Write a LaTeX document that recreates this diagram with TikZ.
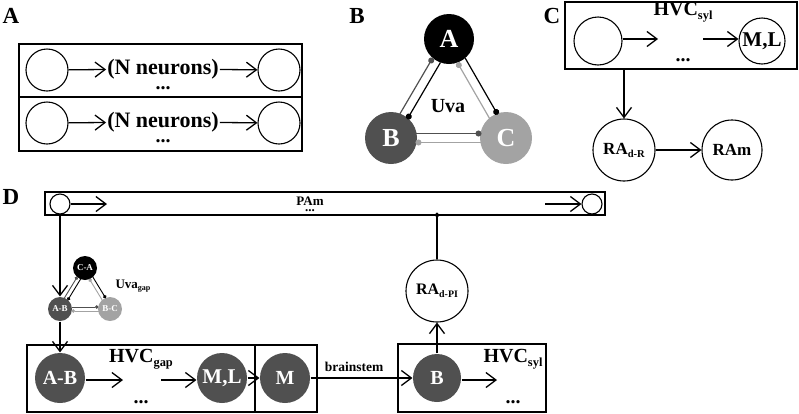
\documentclass[tikz,border=0pt]{standalone}
\usepackage{fontspec}
\setmainfont{Liberation Serif}
\usepackage{graphicx}
\usetikzlibrary{arrows.meta,calc}
\definecolor{darkg}{RGB}{80,80,80}
\definecolor{lightg}{RGB}{163,163,163}
\newcommand\lsub[1]{\raisebox{-0.18em}{\scalebox{0.62}{#1}}}
\newcommand\fsz[1]{\fontsize{#1}{#1}\selectfont\bfseries}
\newcommand\plink[4]{\draw[#3] ($(#1)!#4!90:(#2)$) -- ($(#2)!#4!-90:(#1)$);}
\begin{document}
\begin{tikzpicture}[x=1pt,y=-1pt,
  barb/.style={-{Straight Barb[length=10pt,width=15pt]}, line width=1.3pt},
  cn/.style={circle, inner sep=0pt, line width=1.1pt, minimum size=#1},
  box/.style={draw, line width=1.8pt, inner sep=0pt},
  lbl/.style={font=\fsz{23}},
  dts/.style={font=\fsz{20}, inner sep=0pt, anchor=base},
  lkB/.style={line width=1.2pt, -{Circle[length=6pt]}, shorten <=24.5pt, shorten >=24.5pt},
  lkD/.style={line width=0.9pt, -{Circle[length=3.5pt]}, shorten <=11.5pt, shorten >=11.5pt}
]
\useasboundingbox (0,0) rectangle (799,413);

% ---------- Panel A ----------
\node[lbl] (la) at (11,16) {A};
\node[box, minimum width=283pt, minimum height=53pt] (bA1) at (160.5,70.5) {};
\node[box, minimum width=283pt, minimum height=54pt] (bA2) at (160.5,124) {};
\node[cn=42pt, draw] (a1l) at (47,70) {};
\node[cn=42pt, draw] (a1r) at (279,70) {};
\node[font=\fsz{22}, inner sep=1pt] (t1) at (163,69) {(N neurons)};
\node[dts] (d1) at (163,89) {...};
\draw[barb] (a1l) -- (t1);
\draw[barb] (t1) -- (a1r);
\node[cn=42pt, draw] (a2l) at (47,123) {};
\node[cn=42pt, draw] (a2r) at (279,123) {};
\node[font=\fsz{22}, inner sep=1pt] (t2) at (163,122) {(N neurons)};
\node[dts] (d2) at (163,142) {...};
\draw[barb] (a2l) -- (t2);
\draw[barb] (t2) -- (a2r);

% ---------- Panel B ----------
\node[lbl] (lb) at (357,16) {B};
\node[cn=50pt, fill=black, text=white, font=\fsz{26}] (A) at (449,39) {A};
\node[cn=52pt, fill=darkg, text=white, font=\fsz{26}] (B) at (391,138) {B};
\node[cn=52pt, fill=lightg, text=white, font=\fsz{26}] (C) at (506,138) {C};
\node[font=\fsz{20}] (uva) at (448,106) {Uva};
\plink{A}{B}{black,lkB}{4.5pt}
\plink{B}{A}{darkg,lkB}{4.5pt}
\plink{A}{C}{black,lkB}{4.5pt}
\plink{C}{A}{lightg,lkB}{4.5pt}
\plink{B}{C}{darkg,lkB}{4.5pt}
\plink{C}{B}{lightg,lkB}{4.5pt}

% ---------- Panel C ----------
\node[lbl] (lc) at (552,16) {C};
\node[box, minimum width=232pt, minimum height=67pt] (bC) at (681,35.5) {};
\node[font=\fsz{20}] (hvcC) at (683,12) {HVC\lsub{syl}};
\node[cn=48pt, draw] (c1) at (598,41) {};
\node[cn=46pt, draw, font=\fsz{21}] (cML) at (762,41) {M,L};
\coordinate (c1e) at (658,39);
\coordinate (c2s) at (703,39);
\draw[barb] (c1.east |- c1e) -- (c1e);
\draw[barb] (c2s) -- (cML.west |- c2s);
\node[dts] (dC) at (683,61) {...};
\node[cn=62pt, draw, font=\fsz{17}] (cRA) at (624,150) {RA\lsub{d-R}};
\node[cn=60pt, draw, font=\fsz{17}] (cRAm) at (732,150) {RAm};
\draw[barb] (bC.south -| cRA) -- (cRA);
\draw[barb] (cRA) -- (cRAm);

% ---------- Panel D ----------
\node[lbl] (ld) at (11,197) {D};
\node[box, minimum width=560pt, minimum height=23pt] (pam) at (325,203.5) {};
\node[cn=20pt, draw] (pL) at (60,204) {};
\node[cn=20pt, draw] (pR) at (592,204) {};
\coordinate (pLe) at (107,204);
\coordinate (pRs) at (545,204);
\draw[barb] (pL) -- (pLe);
\draw[barb] (pRs) -- (pR);
\node[font=\fsz{13}, inner sep=0pt, anchor=base] (pamt) at (310,205) {PAm};
\node[font=\fsz{13}, inner sep=0pt, anchor=base] (pamd) at (310,211.5) {...};

% Uva gap
\node[cn=24pt, fill=black, text=white, font=\fsz{9}] (gCA) at (85,268) {C-A};
\node[cn=24pt, fill=darkg, text=white, font=\fsz{9}] (gAB) at (60,309) {A-B};
\node[cn=24pt, fill=lightg, text=white, font=\fsz{9}] (gBC) at (110,309) {B-C};
\plink{gCA}{gAB}{black,lkD}{2pt}
\plink{gAB}{gCA}{darkg,lkD}{2pt}
\plink{gCA}{gBC}{black,lkD}{2pt}
\plink{gBC}{gCA}{lightg,lkD}{2pt}
\plink{gAB}{gBC}{darkg,lkD}{2pt}
\plink{gBC}{gAB}{lightg,lkD}{2pt}
\node[font=\fsz{13}] (uvag) at (133,286) {Uva\lsub{gap}};

% HVC gap
\node[box, minimum width=228pt, minimum height=67pt] (bgap) at (141,378.5) {};
\node[box, minimum width=62pt, minimum height=67pt] (bM) at (286,378.5) {};
\node[cn=50pt, fill=darkg, text=white, font=\fsz{20}] (hAB) at (60,378) {A-B};
\node[cn=50pt, fill=darkg, text=white, font=\fsz{21}] (hML) at (222,378) {M,L};
\node[cn=50pt, fill=darkg, text=white, font=\fsz{20}] (hM) at (285,378) {M};
\node[font=\fsz{20}] (hvcg) at (141,359) {HVC\lsub{gap}};
\node[dts] (dg) at (141,403) {...};
\coordinate (g1e) at (123,380);
\coordinate (g2s) at (161,380);
\draw[barb] (hAB.east |- g1e) -- (g1e);
\draw[barb] (g2s) -- (hML.west |- g2s);
\draw[barb] (pL) -- (gAB);
\draw[barb] (gAB) -- (hAB);
\draw[barb] (hML) -- (hM);

% HVC syl (D)
\node[box, minimum width=148pt, minimum height=68pt] (bsyl) at (472,378) {};
\node[cn=48pt, fill=darkg, text=white, font=\fsz{20}] (hB) at (437,378) {B};
\node[font=\fsz{20}] (hvcs) at (513,359) {HVC\lsub{syl}};
\node[dts] (ds) at (513,403) {...};
\coordinate (s1e) at (497,380);
\draw[barb] (hB.east |- s1e) -- (s1e);
\draw[barb] (hM) -- (hB);
\node[font=\fsz{13.5}] (brain) at (354,367) {brainstem};

% RA d-PI
\node[cn=62pt, draw, font=\fsz{16}] (rapi) at (437,291) {RA\lsub{d-PI}};
\draw[barb] (hB) -- (rapi);
\coordinate (pamb) at (437,215);
\draw[line width=1.2pt, -{Circle[length=5pt]}, shorten >=-2.5pt] (rapi) -- (pamb);
\end{tikzpicture}
\end{document}
